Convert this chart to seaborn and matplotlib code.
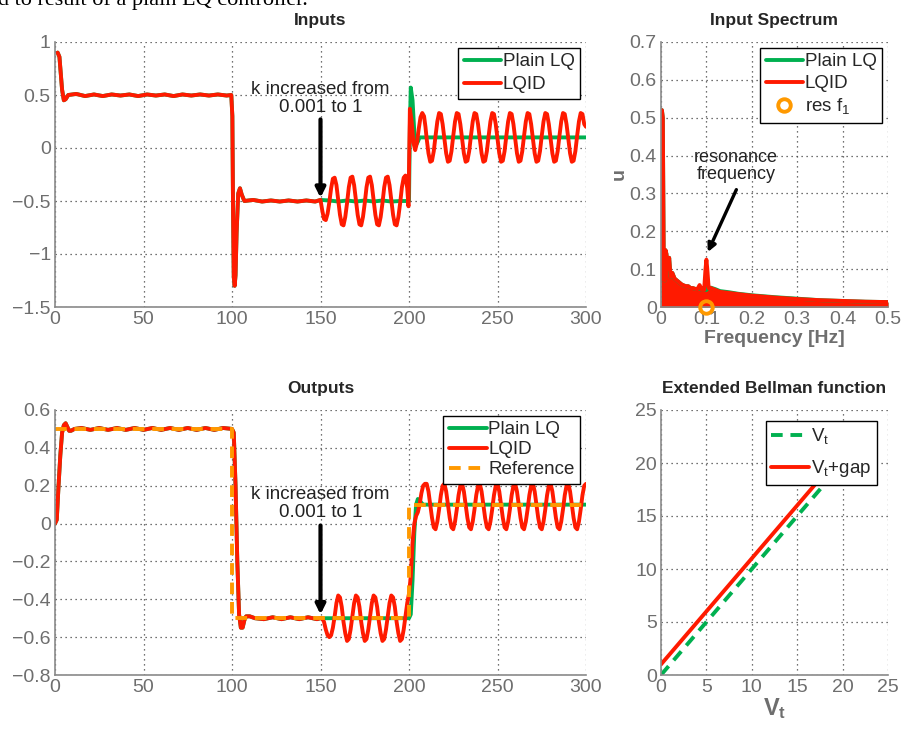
import numpy as np
import seaborn as sns
import matplotlib.pyplot as plt

# ---- data ----
# inputs, shared part of both controllers (t < 150)
in_t_pre = [1.5, 2.5, 4, 5, 6, 7.5,
            12, 17, 22, 27, 32, 37, 42, 47, 52, 57, 62, 67, 72, 77, 82, 87, 92, 97,
            99.6, 100.2, 100.6, 101, 101.5, 102, 102.6, 103.5, 104.5, 105.5, 107,
            112, 117, 122, 127, 132, 137, 142, 147, 150]
in_y_pre = [0.90, 0.86, 0.55, 0.45, 0.46, 0.50,
            0.51, 0.49, 0.505, 0.49, 0.505, 0.495, 0.505, 0.49, 0.505, 0.495, 0.505, 0.49,
            0.505, 0.495, 0.505, 0.495, 0.505, 0.495,
            0.5, 0.3, -0.6, -1.22, -1.3, -1.2, -0.8, -0.43, -0.38, -0.44, -0.5,
            -0.49, -0.505, -0.495, -0.505, -0.495, -0.505, -0.495, -0.505, -0.49]

lq_in_t_post = [155, 160, 165, 170, 175, 180, 185, 190, 195, 200, 200.5, 201, 202, 203, 204, 205, 206, 300]
lq_in_y_post = [-0.495, -0.505, -0.495, -0.505, -0.495, -0.505, -0.495, -0.505, -0.5, -0.5,
                0.2, 0.57, 0.45, 0.15, 0.03, 0.06, 0.1, 0.1]

lqid_in_t_osc1 = list(range(151, 200))
lqid_in_y_osc1 = [-0.59, -0.67, -0.68, -0.62, -0.51, -0.38, -0.29, -0.28, -0.35,
                  -0.49, -0.63, -0.72, -0.73, -0.65, -0.52, -0.37, -0.28, -0.27, -0.35,
                  -0.49, -0.63, -0.72, -0.73, -0.65, -0.52, -0.37, -0.28, -0.27, -0.35,
                  -0.49, -0.63, -0.72, -0.73, -0.65, -0.52, -0.37, -0.28, -0.27, -0.35,
                  -0.49, -0.63, -0.72, -0.73, -0.65, -0.52, -0.37, -0.28, -0.26, -0.38]
lqid_in_t_jump = [199.7, 200.5, 201.5, 202.5, 203.5, 204.5, 205.5, 206.5, 207.5, 208.5, 209.3]
lqid_in_y_jump = [-0.55, 0.37, 0.25, 0.05, -0.02, 0.05, 0.18, 0.29, 0.33, 0.3, 0.2]
lqid_in_t_osc2 = list(range(210, 301))
lqid_in_y_osc2 = [0.085, -0.05, -0.13, -0.12, -0.03, 0.115, 0.25, 0.33, 0.32, 0.225,
                  0.085, -0.05, -0.13, -0.12, -0.03, 0.115, 0.25, 0.33, 0.32, 0.225,
                  0.085, -0.05, -0.13, -0.12, -0.03, 0.115, 0.25, 0.33, 0.32, 0.225,
                  0.085, -0.05, -0.13, -0.12, -0.03, 0.115, 0.25, 0.33, 0.32, 0.225,
                  0.085, -0.05, -0.13, -0.12, -0.03, 0.115, 0.25, 0.33, 0.32, 0.225,
                  0.085, -0.05, -0.13, -0.12, -0.03, 0.115, 0.25, 0.33, 0.32, 0.225,
                  0.085, -0.05, -0.13, -0.12, -0.03, 0.115, 0.25, 0.33, 0.32, 0.225,
                  0.085, -0.05, -0.13, -0.12, -0.03, 0.115, 0.25, 0.33, 0.32, 0.225,
                  0.085, -0.05, -0.13, -0.12, -0.03, 0.115, 0.25, 0.33, 0.32, 0.225,
                  0.2]

# outputs
out_t_pre = [0, 1, 2, 3, 4, 5, 6, 7, 8, 9, 11,
             15, 20, 25, 30, 35, 40, 45, 50, 55, 60, 65, 70, 75, 80, 85, 90, 95,
             100, 101, 102, 103, 104, 105, 106, 107, 108, 110, 113,
             118, 123, 128, 133, 138, 143, 148, 150]
out_y_pre = [0.0, 0.02, 0.2, 0.36, 0.48, 0.52, 0.53, 0.51, 0.49, 0.49, 0.5,
             0.505, 0.495, 0.505, 0.495, 0.505, 0.495, 0.505, 0.495, 0.505, 0.495, 0.505,
             0.495, 0.505, 0.495, 0.505, 0.495, 0.505,
             0.5, 0.48, 0.2, -0.2, -0.48, -0.55, -0.55, -0.51, -0.49, -0.49, -0.5,
             -0.505, -0.495, -0.505, -0.495, -0.505, -0.495, -0.505, -0.5]

lq_out_t_post = [160, 170, 180, 190, 200, 201, 202, 203, 204, 205, 206, 208, 300]
lq_out_y_post = [-0.5, -0.5, -0.5, -0.5, -0.5, -0.48, -0.3, -0.05, 0.1, 0.13, 0.12, 0.1, 0.1]

lqid_out_t_osc1 = list(range(151, 210))
lqid_out_y_osc1 = [-0.5, -0.52, -0.56, -0.59, -0.6, -0.59, -0.55, -0.49, -0.42,
                   -0.38, -0.39, -0.44, -0.52, -0.58, -0.62, -0.61, -0.56, -0.49, -0.42,
                   -0.38, -0.39, -0.44, -0.52, -0.58, -0.62, -0.61, -0.56, -0.49, -0.42,
                   -0.38, -0.39, -0.44, -0.52, -0.58, -0.62, -0.61, -0.56, -0.49, -0.42,
                   -0.38, -0.39, -0.44, -0.52, -0.58, -0.62, -0.61, -0.56, -0.49, -0.42,
                   -0.37, -0.28, -0.1, 0.0, 0.04, 0.06, 0.1, 0.16, 0.2, 0.21]
lqid_out_t_osc2 = list(range(210, 301))
lqid_out_y_osc2 = [0.21, 0.17, 0.10, 0.03, -0.02, -0.03, 0.01, 0.075, 0.15, 0.20,
                   0.21, 0.17, 0.10, 0.03, -0.02, -0.03, 0.01, 0.075, 0.15, 0.20,
                   0.21, 0.17, 0.10, 0.03, -0.02, -0.03, 0.01, 0.075, 0.15, 0.20,
                   0.21, 0.17, 0.10, 0.03, -0.02, -0.03, 0.01, 0.075, 0.15, 0.20,
                   0.21, 0.17, 0.10, 0.03, -0.02, -0.03, 0.01, 0.075, 0.15, 0.20,
                   0.21, 0.17, 0.10, 0.03, -0.02, -0.03, 0.01, 0.075, 0.15, 0.20,
                   0.21, 0.17, 0.10, 0.03, -0.02, -0.03, 0.01, 0.075, 0.15, 0.20,
                   0.21, 0.17, 0.10, 0.03, -0.02, -0.03, 0.01, 0.075, 0.15, 0.20,
                   0.21, 0.17, 0.10, 0.03, -0.02, -0.03, 0.01, 0.075, 0.15, 0.20,
                   0.21]

ref_t = [0, 100, 100, 200, 200, 300]
ref_y = [0.5, 0.5, -0.5, -0.5, 0.1, 0.1]

# input spectrum (upper envelope)
spec_f = [0.000, 0.002, 0.004, 0.006, 0.008, 0.010, 0.012, 0.015, 0.018, 0.021, 0.025,
          0.030, 0.035, 0.040, 0.045, 0.050, 0.055, 0.060, 0.065, 0.070, 0.075, 0.080,
          0.085, 0.090, 0.095, 0.098, 0.100, 0.102, 0.105, 0.110, 0.120, 0.130, 0.150,
          0.170, 0.200, 0.250, 0.300, 0.350, 0.400, 0.450, 0.500]
spec_lqid = [0.070, 0.520, 0.500, 0.120, 0.070, 0.150, 0.140, 0.100, 0.130, 0.080, 0.090,
             0.075, 0.070, 0.065, 0.060, 0.057, 0.055, 0.055, 0.050, 0.050, 0.048, 0.047,
             0.058, 0.045, 0.045, 0.100, 0.125, 0.100, 0.050, 0.050, 0.045, 0.040, 0.037,
             0.034, 0.030, 0.025, 0.021, 0.018, 0.016, 0.014, 0.013]
spec_lq = [0.070, 0.520, 0.500, 0.120, 0.070, 0.150, 0.140, 0.100, 0.130, 0.080, 0.090,
           0.075, 0.070, 0.065, 0.060, 0.057, 0.055, 0.055, 0.050, 0.050, 0.048, 0.047,
           0.050, 0.045, 0.045, 0.045, 0.045, 0.048, 0.051, 0.051, 0.047, 0.042, 0.039,
           0.035, 0.031, 0.026, 0.022, 0.018, 0.016, 0.014, 0.013]
res_f1 = 0.1

# extended Bellman function
bell_v = [0, 20]
bell_gap = [1, 21]

GREEN = "#00b050"
RED = "#ff1a00"
ORANGE = "#ff9900"
GREY = "#6e6e6e"

sns.set_style("white")
plt.rcParams["font.family"] = ["Liberation Sans", "DejaVu Sans"]
plt.rcParams["mathtext.fontset"] = "custom"
plt.rcParams["mathtext.rm"] = "Liberation Sans"
plt.rcParams["mathtext.bf"] = "Liberation Sans:bold"

fig = plt.figure(figsize=(9.01, 7.29), dpi=100)
W, H = 901, 729


def box(l, t, r, b):
    return [l / W, 1 - b / H, (r - l) / W, (b - t) / H]


ax_in = fig.add_axes(box(55, 42, 586, 307))
ax_sp = fig.add_axes(box(661, 42, 888, 307))
ax_out = fig.add_axes(box(55, 410, 586, 675))
ax_bl = fig.add_axes(box(661, 410, 888, 675))

FS = 14


def style(ax):
    for s in ["top", "right"]:
        ax.spines[s].set_visible(False)
    for s in ["left", "bottom"]:
        ax.spines[s].set_color("#8a8a8a")
        ax.spines[s].set_linewidth(1.2)
    ax.tick_params(direction="in", length=4, colors="#8a8a8a", labelcolor=GREY,
                   labelsize=FS, pad=3)
    ax.grid(True, color="#444444", linestyle=(0, (1, 3)), linewidth=0.9)
    ax.set_axisbelow(True)


def legend(ax, pad=0.3, spacing=0.3):
    leg = ax.legend(loc="upper right", fancybox=False, edgecolor="black", framealpha=1,
                    fontsize=13.5, handlelength=2.0, handletextpad=0.1, borderpad=0.3,
                    labelspacing=spacing, borderaxespad=pad)
    leg.get_frame().set_linewidth(1.0)
    leg.set_zorder(10)
    return leg


def arrow(ax, tail, head, lw=3.0, ms=14):
    ax.annotate("", xy=head, xytext=tail,
                arrowprops=dict(arrowstyle="-|>", color="black", lw=lw, mutation_scale=ms,
                                shrinkA=0, shrinkB=0))


lw = 2.8
kw = dict(estimator=None, sort=False)

# ---- Inputs ----
sns.lineplot(x=in_t_pre + lq_in_t_post, y=in_y_pre + lq_in_y_post, ax=ax_in,
             color=GREEN, lw=lw, label="Plain LQ", **kw)
sns.lineplot(x=in_t_pre + lqid_in_t_osc1 + lqid_in_t_jump + lqid_in_t_osc2,
             y=in_y_pre + lqid_in_y_osc1 + lqid_in_y_jump + lqid_in_y_osc2,
             ax=ax_in, color=RED, lw=lw, label="LQID", **kw)
ax_in.set_xlim(0, 300)
ax_in.set_ylim(-1.5, 1)
ax_in.set_xticks(range(0, 301, 50))
ax_in.set_yticks([-1.5, -1, -0.5, 0, 0.5, 1])
ax_in.set_yticklabels(["\u22121.5", "\u22121", "\u22120.5", "0", "0.5", "1"])
ax_in.set_title("Inputs", fontweight="bold", fontsize=12.5, pad=12)
ax_in.set_xlabel("")
ax_in.set_ylabel("")
ax_in.text(150, 0.47, "k increased from\n0.001 to 1", ha="center", va="center",
           fontsize=13.5, color="#222222", linespacing=1.05)
arrow(ax_in, (150, 0.27), (150, -0.47))
style(ax_in)
legend(ax_in)

# ---- Input Spectrum ----
ax_sp.fill_between(spec_f, spec_lq, color=GREEN, lw=0)
ax_sp.fill_between(spec_f, spec_lqid, color=RED, lw=0)
sns.lineplot(x=spec_f, y=spec_lq, ax=ax_sp, color=GREEN, lw=lw, label="Plain LQ", **kw)
sns.lineplot(x=spec_f, y=spec_lqid, ax=ax_sp, color=RED, lw=lw, label="LQID", **kw)
ax_sp.plot([res_f1], [0], "o", mfc="none", mec=ORANGE, ms=9, mew=2.8, label="res f$_\\mathregular{1}$",
           clip_on=False, zorder=5)
ax_sp.set_xlim(0, 0.5)
ax_sp.set_ylim(0, 0.7)
ax_sp.set_xticks([0, 0.1, 0.2, 0.3, 0.4, 0.5])
ax_sp.set_xticklabels(["0", "0.1", "0.2", "0.3", "0.4", "0.5"])
ax_sp.set_yticks([0, 0.1, 0.2, 0.3, 0.4, 0.5, 0.6, 0.7])
ax_sp.set_yticklabels(["0", "0.1", "0.2", "0.3", "0.4", "0.5", "0.6", "0.7"])
ax_sp.set_title("Input Spectrum", fontweight="bold", fontsize=12.5, pad=12)
ax_sp.set_xlabel("Frequency [Hz]", fontweight="bold", color=GREY, fontsize=14, labelpad=1)
ax_sp.set_ylabel("u", fontweight="bold", color=GREY, fontsize=14, labelpad=1)
ax_sp.text(0.165, 0.372, "resonance\nfrequency", ha="center", va="center",
           fontsize=13, color="#222222", linespacing=1.0)
arrow(ax_sp, (0.166, 0.31), (0.103, 0.145), lw=2.4, ms=12)
style(ax_sp)
legend(ax_sp, spacing=0.25)

# ---- Outputs ----
sns.lineplot(x=out_t_pre + lq_out_t_post, y=out_y_pre + lq_out_y_post, ax=ax_out,
             color=GREEN, lw=lw, label="Plain LQ", **kw)
sns.lineplot(x=out_t_pre + lqid_out_t_osc1 + lqid_out_t_osc2,
             y=out_y_pre + lqid_out_y_osc1 + lqid_out_y_osc2,
             ax=ax_out, color=RED, lw=lw, label="LQID", **kw)
sns.lineplot(x=ref_t, y=ref_y, ax=ax_out, color=ORANGE, lw=lw, label="Reference", **kw)
ax_out.lines[-1].set_dashes([3, 2])
ax_out.set_xlim(0, 300)
ax_out.set_ylim(-0.8, 0.6)
ax_out.set_xticks(range(0, 301, 50))
ax_out.set_yticks([-0.8, -0.6, -0.4, -0.2, 0, 0.2, 0.4, 0.6])
ax_out.set_yticklabels(["\u22120.8", "\u22120.6", "\u22120.4", "\u22120.2", "0", "0.2", "0.4", "0.6"])
ax_out.set_title("Outputs", fontweight="bold", fontsize=12.5, pad=12)
ax_out.set_xlabel("")
ax_out.set_ylabel("")
ax_out.text(150, 0.105, "k increased from\n0.001 to 1", ha="center", va="center",
            fontsize=13.5, color="#222222", linespacing=1.05)
arrow(ax_out, (150, -0.01), (150, -0.48))
style(ax_out)
legend(ax_out, spacing=0.15)

# ---- Extended Bellman function ----
sns.lineplot(x=bell_v, y=bell_v, ax=ax_bl, color=GREEN, lw=lw, label="V$_\\mathregular{t}$", **kw)
ax_bl.lines[-1].set_dashes([3, 2])
sns.lineplot(x=bell_v, y=bell_gap, ax=ax_bl, color=RED, lw=lw, label="V$_\\mathregular{t}$+gap", **kw)
ax_bl.set_xlim(0, 25)
ax_bl.set_ylim(0, 25)
ax_bl.set_xticks(range(0, 26, 5))
ax_bl.set_yticks(range(0, 26, 5))
ax_bl.set_title("Extended Bellman function", fontweight="bold", fontsize=12.5, pad=12)
ax_bl.set_xlabel("$\\mathbf{V_t}$", color=GREY, fontsize=17, labelpad=0)
ax_bl.set_ylabel("")
style(ax_bl)
legend(ax_bl, pad=0.6, spacing=0.6)

fig.text(-0.002, 0.9925, "d to result of a plain LQ controller.", family="Liberation Serif",
         fontsize=16, va="baseline", ha="left", color="black")

fig.savefig("out.png", dpi=100)
